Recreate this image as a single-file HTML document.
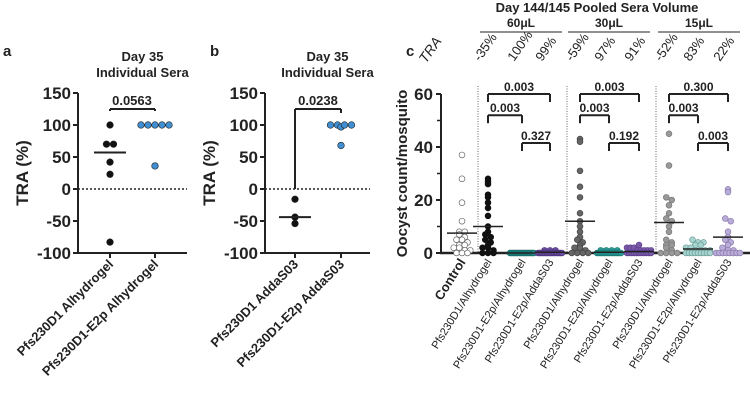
<!DOCTYPE html>
<html><head><meta charset="utf-8"><style>
body{margin:0;background:#fff;}
svg{display:block;font-family:"Liberation Sans",Arial,sans-serif;}
</style></head><body>
<svg id="fig" width="750" height="402" viewBox="0 0 750 402"></svg>
<script>
// ---- Panel a data ----
const aCategories = ["Pfs230D1 Alhydrogel","Pfs230D1-E2p Alhydrogel"];
const aSeries1 = [100,70,70,42,23,-83];
const aSeries2 = [100,100,100,100,100,36];
const aMedians = [57,100];
const aPValue = "0.0563";
// ---- Panel b data ----
const bCategories = ["Pfs230D1 AddaS03","Pfs230D1-E2p AddaS03"];
const bSeries1 = [-16,-44,-54];
const bSeries2 = [100,100,97,100,100,68];
const bMedians = [-44,100];
const bPValue = "0.0238";
const abTicks = [150,100,50,0,-50,-100];
// ---- Panel c data ----
const cCategories = ["Control","Pfs230D1/Alhydrogel","Pfs230D1-E2p/Alhydrogel","Pfs230D1-E2p/AddaS03","Pfs230D1/Alhydrogel","Pfs230D1-E2p/Alhydrogel","Pfs230D1-E2p/AddaS03","Pfs230D1/Alhydrogel","Pfs230D1-E2p/Alhydrogel","Pfs230D1-E2p/AddaS03"];
const cTRA = ["-35%","100%","99%","-59%","97%","91%","-52%","83%","22%"];
const cVolumes = ["60\u03bcL","30\u03bcL","15\u03bcL"];
const cControl = [37,28,19,12,8,8,7,6,5,5,4,3,3,2,2,1,1,0,0,0];
const cAlh60 = [28,27,26,22,21,19,17,14,10,8,7,6,5,4,3,2,2,1,0,0,0];
const cE2pAlh60 = [0,0,0,0,0,0,0,0,0,0,0,0,0,0,0,0,0,0,0,0];
const cE2pAdda60 = [1,1,1,0,0,0,0,0,0,0,0,0,0,0,0,0,0,0,0,0];
const cAlh30 = [43,42,31,25,21,15,12,10,8,6,5,4,3,2,2,1,0,0,0,0];
const cE2pAlh30 = [1,1,1,1,0,0,0,0,0,0,0,0,0,0,0,0,0,0,0,0];
const cE2pAdda30 = [3,2,2,2,1,1,1,1,1,0,0,0,0,0,0,0,0,0,0,0];
const cAlh15 = [45,33,21,20,18,15,13,12,10,8,5,4,3,3,2,1,0,0,0,0];
const cE2pAlh15 = [5,4,4,3,3,2,2,1,1,1,1,0,0,0,0,0,0,0,0,0];
const cE2pAdda15 = [24,23,13,12,8,6,5,4,3,2,1,1,0,0,0,0,0,0,0,0];
const cMedians = [7.5,10,0,0.3,12,0.3,0.5,11.5,1.5,6];
const cPValues = ["0.003","0.003","0.327","0.003","0.003","0.192","0.300","0.003","0.003"];
const cTicks = [60,40,20,0];

const NS="http://www.w3.org/2000/svg";
const svg=document.getElementById('fig');
function el(tag,attrs,parent,text){const e=document.createElementNS(NS,tag);for(const k in attrs)e.setAttribute(k,attrs[k]);if(text!==undefined)e.textContent=text;(parent||svg).appendChild(e);return e;}
function txt(x,y,s,size,opts,name){const e=el('text',Object.assign({x:x,y:y,'font-size':size,fill:'#222'},opts||{}),null,s);return e;}
function line(x1,y1,x2,y2,w,name,extra){const e=el('line',Object.assign({x1:x1,y1:y1,x2:x2,y2:y2,stroke:'#222','stroke-width':w},extra||{}));return e;}

// ---------- Panels a & b ----------
function panelAB(ax,xEnd,cats,s1,s2,med,pval,tickX,c2,name,lbl,lblx){
  const y=v=>189-v*32/50;
  txt(lblx,56,lbl,15,{'font-weight':'bold'},name+'-label');
  const cx=(ax+xEnd)/2+10;
  txt(cx,61,'Day 35',13,{'font-weight':'bold','text-anchor':'middle'},name+'-title-line1');
  txt(cx,77,'Individual Sera',13,{'font-weight':'bold','text-anchor':'middle'},name+'-title-line2');
  line(ax,y(150),ax,y(-100)+1,2,name+'-y-axis');
  line(ax-1,y(-100),xEnd,y(-100),2,name+'-x-axis');
  abTicks.forEach(t=>{line(ax-5,y(t),ax,y(t),2,name+'-y-tick');txt(ax-7,y(t)+6,String(t),17,{'font-weight':'bold','text-anchor':'end'},name+'-y-tick-label');});
  txt(0,0,'TRA (%)',17,{'font-weight':'bold','text-anchor':'middle',transform:`translate(${ax-50},${y(25)}) rotate(-90)`},name+'-y-axis-title');
  line(ax,y(0),xEnd,y(0),1.5,name+'-zero-line',{'stroke-dasharray':'2,2'});
  tickX.forEach((tx,i)=>{line(tx,y(-100),tx,y(-100)+5,2,name+'-x-tick');
    txt(0,0,cats[i],13,{'font-weight':'bold','text-anchor':'end',transform:`translate(${tx+4},${y(-100)+12}) rotate(-45)`},name+'-x-label');});
  function pts(arr,xc,fill){const counts={};arr.forEach(v=>{counts[v]=(counts[v]||0)+1;});const seen={};
    arr.forEach(v=>{const n=counts[v];const k=seen[v]=(seen[v]||0);seen[v]++;const dx=(k-(n-1)/2)*7;
      const c=el('circle',{cx:xc+dx,cy:y(v),r:3.3,fill:fill,stroke:'#222','stroke-width':0.6});
      });}
  pts(s1,tickX[0],'#111');pts(s2,tickX[1],c2);
  line(tickX[0]-16,y(med[0]),tickX[0]+16,y(med[0]),2,name+'-median');
  return y;
}
const ya=panelAB(78,187,aCategories,aSeries1,aSeries2,aMedians,aPValue,[110,155],'#3f8fd2','panel-a','a',3);
line(110,ya(100)-14,110,ya(125),2,'panel-a-bracket-left');
line(110,ya(125),155,ya(125),2,'panel-a-bracket-top');
line(155,ya(125),155,ya(100)-14,2,'panel-a-bracket-right');
txt(132,ya(125)-4,aPValue,13,{'font-weight':'bold','text-anchor':'middle'},'panel-a-p-value');
const yb=panelAB(265,370,bCategories,bSeries1,bSeries2,bMedians,bPValue,[295,341],'#3f8fd2','panel-b','b',210);
line(295,yb(0),295,yb(125),2,'panel-b-bracket-left');
line(295,yb(125),341,yb(125),2,'panel-b-bracket-top');
line(341,yb(125),341,yb(100)-12,2,'panel-b-bracket-right');
txt(318,yb(125)-4,bPValue,13,{'font-weight':'bold','text-anchor':'middle'},'panel-b-p-value');

// ---------- Panel c ----------
const cy=v=>253-v*(253-94)/60;
const cX=[462,488,522,550,580,609,639,669,698,728];
const cData=[cControl,cAlh60,cE2pAlh60,cE2pAdda60,cAlh30,cE2pAlh30,cE2pAdda30,cAlh15,cE2pAlh15,cE2pAdda15];
const cFill=['#fff','#111','#1f8a86','#6a4c9c','#666','#2a9a95','#7a5aa8','#999','#a9d3cf','#b9acd6'];
const cStroke=['#666','#111','#156e6b','#4f3580','#444','#1a7a76','#5a3e8c','#777','#6aa09c','#8a7ab0'];
txt(597,12,'Day 144/145 Pooled Sera Volume',13,{'font-weight':'bold','text-anchor':'middle'},'panel-c-title');
[[480,562],[568,650],[658,740]].forEach((r,i)=>{
  txt((r[0]+r[1])/2,27,cVolumes[i],12,{'font-weight':'bold','text-anchor':'middle'},'volume-label');
  line(r[0],32,r[1],32,1,'volume-underline');});
txt(406,56,'c',15,{'font-weight':'bold'},'panel-c-label');
txt(0,0,'TRA',14,{'font-style':'italic',transform:'translate(426,64) rotate(-55)'},'tra-row-title');
cTRA.forEach((t,i)=>{txt(0,0,t,13,{transform:`translate(${cX[i+1]-8},62) rotate(-55)`},'tra-value');});
line(441,94,441,254,2,'panel-c-y-axis');
line(440,253,750,253,2.5,'panel-c-x-axis');
cTicks.forEach(t=>{line(436,cy(t),441,cy(t),2,'panel-c-y-tick');txt(433,cy(t)+6,String(t),17,{'font-weight':'bold','text-anchor':'end'},'panel-c-y-tick-label');});
[10,30,50].forEach(t=>line(437,cy(t),441,cy(t),1.5,'panel-c-minor-tick'));
txt(0,0,'Oocyst count/mosquito',15,{'font-weight':'bold','text-anchor':'middle',transform:`translate(407,${cy(30)}) rotate(-90)`},'panel-c-y-axis-title');
[478,567,656].forEach(x=>line(x,86,x,253,1,'group-separator',{'stroke-dasharray':'1,1.5',stroke:'#666'}));
cData.forEach((arr,i)=>{
  const counts={};const seen={};
  arr.forEach(v=>{const b=Math.round(v/1.6);counts[b]=(counts[b]||0)+1;});
  arr.forEach(v=>{const b=Math.round(v/1.6);const n=counts[b];const k=seen[b]=(seen[b]||0);seen[b]++;
    const sp=Math.min(5.5,24/Math.max(n-1,1));
    const dx=(k-(n-1)/2)*sp;
    const c=el('circle',{cx:cX[i]+dx,cy:cy(v),r:2.9,fill:cFill[i],stroke:cStroke[i],'stroke-width':0.7});
    });
  line(cX[i]-15,cy(cMedians[i]),cX[i]+15,cy(cMedians[i]),1.5,'median-line');
  txt(0,0,cCategories[i],i===0?13:11,{'font-weight':i===0?'bold':'normal','text-anchor':'end',transform:`translate(${cX[i]+4},${262}) rotate(-58)`},'x-category-label');
});
// brackets
function bracket(x1,x2,v,p,leg,name){const yy=cy(v);const yl=yy+leg;
  line(x1,yl,x1,yy,2,name+'-left');line(x1,yy,x2,yy,2,name+'-top');line(x2,yy,x2,yl,2,name+'-right');
  txt((x1+x2)/2,yy-3,p,12,{'font-weight':'bold','text-anchor':'middle'},name+'-p-value');}
[[1,2,3],[4,5,6],[7,8,9]].forEach((g,gi)=>{
  bracket(cX[g[0]],cX[g[2]],60,cPValues[gi*3],8,'bracket-outer');
  bracket(cX[g[0]],cX[g[1]],52,cPValues[gi*3+1],8,'bracket-left');
  bracket(cX[g[1]],cX[g[2]],41.5,cPValues[gi*3+2],8,'bracket-right');
});
</script>
</body></html>
